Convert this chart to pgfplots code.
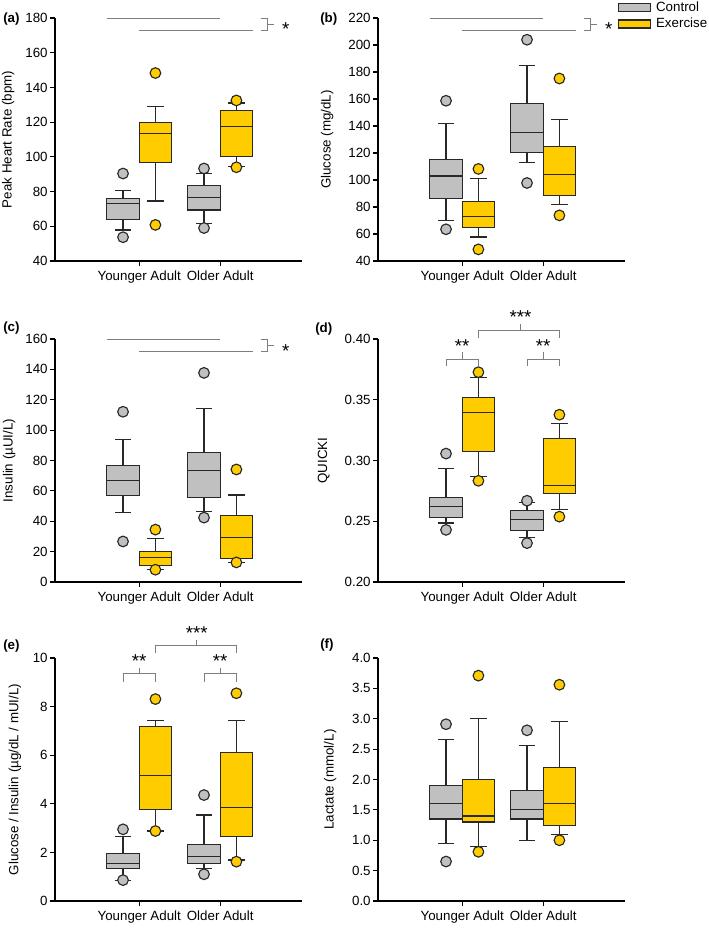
\documentclass[border=0pt]{standalone}
\usepackage{fontspec}
\setmainfont{Liberation Sans}
\usepackage{pgfplots}
\pgfplotsset{compat=1.18}
\usepgfplotslibrary{statistics}
\definecolor{ctrlgray}{RGB}{192,192,192}
\definecolor{exyel}{RGB}{255,204,0}
\definecolor{edge}{RGB}{40,40,40}
\definecolor{sigc}{RGB}{125,125,125}
\newcommand{\tf}{\fontsize{10}{12}\selectfont}
\newcommand{\starfont}{\fontsize{14}{16}\selectfont}
\tikzset{sig/.style={draw=sigc, line width=0.75pt},
  star/.style={anchor=base, font=\starfont, inner sep=0pt}}
\pgfplotsset{
  panel/.style={
    scale only axis, width=185.25pt, height=182.25pt,
    anchor=south west,
    axis x line=bottom, axis y line=left,
    axis line style={line width=0.9pt, -, black},
    xmin=-0.04, xmax=3.01,
    xtick={1,2}, xticklabels={Younger Adult, Older Adult},
    tick align=outside, major tick length=3.5pt,
    tick style={line width=0.9pt, black},
    every tick label/.append style={font=\tf},
    yticklabel style={xshift=1.5pt},
    /pgf/number format/assume math mode=true,
    label style={font=\tf},
    clip=false,
    boxplot/draw direction=y,
  },
  ctrl/.style={boxplot prepared={#1, box extend=0.4, whisker extend=0.2},
    fill=ctrlgray, draw=edge, line width=0.85pt, mark=*, mark size=4pt,
    mark options={fill=ctrlgray, draw=edge, line width=0.85pt}, forget plot},
  exer/.style={boxplot prepared={#1, box extend=0.4, whisker extend=0.2},
    fill=exyel, draw=edge, line width=0.85pt, mark=*, mark size=4pt,
    mark options={fill=exyel, draw=edge, line width=0.85pt}, forget plot},
}
\begin{document}
\begin{tikzpicture}
\useasboundingbox (0pt,0pt) rectangle (531.75pt,-696pt);

% ---------- (a) ----------
\begin{axis}[panel, at={(41.25pt,-195.75pt)},
  ymin=40, ymax=180, ytick={40,60,...,180},
  ylabel={Peak Heart Rate (bpm)},
  ylabel style={at={(axis description cs:-0.19,0.5)}, anchor=center}]
\addplot[ctrl={draw position=0.8, lower whisker=57.9, lower quartile=63.8, median=73.1, upper quartile=76.0, upper whisker=80.8}] coordinates {(0,90.4) (0,53.7)};
\addplot[exer={draw position=1.2, lower whisker=74.6, lower quartile=96.7, median=113.7, upper quartile=119.8, upper whisker=129.0}] coordinates {(0,148.3) (0,60.8)};
\addplot[ctrl={draw position=1.8, lower whisker=61.5, lower quartile=69.4, median=76.5, upper quartile=83.3, upper whisker=90.2}] coordinates {(0,93.3) (0,59.0)};
\addplot[exer={draw position=2.2, lower whisker=94.6, lower quartile=100.4, median=117.7, upper quartile=126.7, upper whisker=131.0}] coordinates {(0,132.5) (0,94.0)};
\draw[sig] (axis cs:0.6,180) -- (axis cs:2.0,180);
\draw[sig] (axis cs:1.0,172.8) -- (axis cs:2.4,172.8);
\draw[sig] (axis cs:2.50,180) -- (axis cs:2.59,180) -- (axis cs:2.59,172.8) -- (axis cs:2.50,172.8);
\draw[sig] (axis cs:2.59,176.4) -- (axis cs:2.66,176.4);
\node[star] at (axis cs:2.81,169.9) {*};
\end{axis}

% ---------- (b) ----------
\begin{axis}[panel, at={(283.5pt,-195.75pt)},
  ymin=40, ymax=220, ytick={40,60,...,220},
  ylabel={Glucose (mg/dL)},
  ylabel style={at={(axis description cs:-0.206,0.5)}, anchor=center},
  legend style={at={(0.972,1.078)}, anchor=north west, draw=none, fill=none,
    inner sep=0pt, row sep=0.5pt, font=\tf,
    nodes={inner sep=1.5pt, text height=7.5pt, text depth=1.5pt}},
  legend cell align=left,
  legend image code/.code={\draw[#1] (0pt,-3pt) rectangle (24pt,3pt); \path (26pt,0pt);}]
\addplot[ctrl={draw position=0.8, lower whisker=70.1, lower quartile=86.0, median=103.0, upper quartile=115.4, upper whisker=142.1}] coordinates {(0,158.7) (0,63.5)};
\addplot[exer={draw position=1.2, lower whisker=57.8, lower quartile=64.7, median=72.9, upper quartile=84.2, upper whisker=100.8}] coordinates {(0,108.2) (0,48.6)};
\addplot[ctrl={draw position=1.8, lower whisker=112.9, lower quartile=120.3, median=135.2, upper quartile=156.9, upper whisker=184.9}] coordinates {(0,203.9) (0,97.8)};
\addplot[exer={draw position=2.2, lower whisker=82.0, lower quartile=88.4, median=104.3, upper quartile=124.5, upper whisker=145.1}] coordinates {(0,175.2) (0,73.8)};
\draw[sig] (axis cs:0.6,220) -- (axis cs:2.0,220);
\draw[sig] (axis cs:1.0,210.7) -- (axis cs:2.4,210.7);
\draw[sig] (axis cs:2.50,220) -- (axis cs:2.59,220) -- (axis cs:2.59,210.7) -- (axis cs:2.50,210.7);
\draw[sig] (axis cs:2.59,215.35) -- (axis cs:2.66,215.35);
\node[star] at (axis cs:2.81,207.0) {*};
\addlegendimage{fill=ctrlgray, draw=edge, line width=0.8pt}
\addlegendentry{Control}
\addlegendimage{fill=exyel, draw=edge, line width=0.8pt}
\addlegendentry{Exercise}
\end{axis}

% ---------- (c) ----------
\begin{axis}[panel, at={(41.25pt,-436.5pt)},
  ymin=0, ymax=160, ytick={0,20,...,160},
  ylabel={Insulin (µUI/L)},
  ylabel style={at={(axis description cs:-0.186,0.5)}, anchor=center}]
\addplot[ctrl={draw position=0.8, lower whisker=45.7, lower quartile=57.0, median=66.9, upper quartile=76.7, upper whisker=94.0}] coordinates {(0,112.1) (0,26.7)};
\addplot[exer={draw position=1.2, lower whisker=8.5, lower quartile=10.7, median=16.2, upper quartile=19.9, upper whisker=28.8}] coordinates {(0,34.5) (0,8.1)};
\addplot[ctrl={draw position=1.8, lower whisker=46.3, lower quartile=55.5, median=73.7, upper quartile=85.5, upper whisker=114.1}] coordinates {(0,137.7) (0,42.4)};
\addplot[exer={draw position=2.2, lower whisker=12.9, lower quartile=15.7, median=29.1, upper quartile=43.9, upper whisker=57.3}] coordinates {(0,74.1) (0,12.9)};
\draw[sig] (axis cs:0.6,160) -- (axis cs:2.0,160);
\draw[sig] (axis cs:1.0,151.8) -- (axis cs:2.4,151.8);
\draw[sig] (axis cs:2.50,160) -- (axis cs:2.59,160) -- (axis cs:2.59,151.8) -- (axis cs:2.50,151.8);
\draw[sig] (axis cs:2.59,155.9) -- (axis cs:2.66,155.9);
\node[star] at (axis cs:2.81,148.1) {*};
\end{axis}

% ---------- (d) ----------
\begin{axis}[panel, at={(283.5pt,-436.5pt)},
  ymin=0.2, ymax=0.4, ytick={0.20,0.25,0.30,0.35,0.40},
  scaled y ticks=false,
  yticklabel style={/pgf/number format/fixed, /pgf/number format/fixed zerofill, /pgf/number format/precision=2},
  ylabel={QUICKI},
  ylabel style={at={(axis description cs:-0.22,0.5)}, anchor=center}]
\addplot[ctrl={draw position=0.8, lower whisker=0.2486, lower quartile=0.2530, median=0.2623, upper quartile=0.2694, upper whisker=0.2932}] coordinates {(0,0.3057) (0,0.2429)};
\addplot[exer={draw position=1.2, lower whisker=0.2869, lower quartile=0.3071, median=0.3393, upper quartile=0.3522, upper whisker=0.3680}] coordinates {(0,0.3727) (0,0.2833)};
\addplot[ctrl={draw position=1.8, lower whisker=0.2364, lower quartile=0.2421, median=0.2516, upper quartile=0.2585, upper whisker=0.2656}] coordinates {(0,0.2669) (0,0.2320)};
\addplot[exer={draw position=2.2, lower whisker=0.2598, lower quartile=0.2732, median=0.2792, upper quartile=0.3183, upper whisker=0.3306}] coordinates {(0,0.3377) (0,0.2538)};
\draw[sig] (axis cs:0.8,0.3779) -- (axis cs:0.8,0.3834) -- (axis cs:1.2,0.3834) -- (axis cs:1.2,0.3779);
\draw[sig] (axis cs:1.0,0.3834) -- (axis cs:1.0,0.3893);
\node[star] at (axis cs:1.0,0.3893) {**};
\draw[sig] (axis cs:1.8,0.3779) -- (axis cs:1.8,0.3834) -- (axis cs:2.2,0.3834) -- (axis cs:2.2,0.3779);
\draw[sig] (axis cs:2.0,0.3834) -- (axis cs:2.0,0.3893);
\node[star] at (axis cs:2.0,0.3893) {**};
\draw[sig] (axis cs:1.2,0.4011) -- (axis cs:1.2,0.4071) -- (axis cs:2.2,0.4071) -- (axis cs:2.2,0.4011);
\draw[sig] (axis cs:1.72,0.4071) -- (axis cs:1.72,0.4125);
\node[star] at (axis cs:1.72,0.4125) {***};
\end{axis}

% ---------- (e) ----------
\begin{axis}[panel, at={(41.25pt,-675.75pt)},
  ymin=0, ymax=10, ytick={0,2,...,10},
  ylabel={Glucose / Insulin (µg/dL / mUI/L)},
  ylabel style={at={(axis description cs:-0.162,0.5)}, anchor=center}]
\addplot[ctrl={draw position=0.8, lower whisker=0.86, lower quartile=1.33, median=1.55, upper quartile=1.95, upper whisker=2.65}] coordinates {(0,2.95) (0,0.86)};
\addplot[exer={draw position=1.2, lower whisker=2.88, lower quartile=3.77, median=5.16, upper quartile=7.17, upper whisker=7.43}] coordinates {(0,8.31) (0,2.88)};
\addplot[ctrl={draw position=1.8, lower whisker=1.33, lower quartile=1.56, median=1.82, upper quartile=2.33, upper whisker=3.54}] coordinates {(0,4.36) (0,1.10)};
\addplot[exer={draw position=2.2, lower whisker=1.69, lower quartile=2.67, median=3.84, upper quartile=6.12, upper whisker=7.43}] coordinates {(0,8.55) (0,1.62)};
\draw[sig] (axis cs:0.8,9.0) -- (axis cs:0.8,9.342) -- (axis cs:1.2,9.342) -- (axis cs:1.2,9.0);
\draw[sig] (axis cs:1.0,9.342) -- (axis cs:1.0,9.576);
\node[star] at (axis cs:1.0,9.609) {**};
\draw[sig] (axis cs:1.8,9.0) -- (axis cs:1.8,9.342) -- (axis cs:2.2,9.342) -- (axis cs:2.2,9.0);
\draw[sig] (axis cs:2.0,9.342) -- (axis cs:2.0,9.576);
\node[star] at (axis cs:2.0,9.609) {**};
\draw[sig] (axis cs:1.2,10.193) -- (axis cs:1.2,10.506) -- (axis cs:2.2,10.506) -- (axis cs:2.2,10.193);
\draw[sig] (axis cs:1.71,10.506) -- (axis cs:1.71,10.761);
\node[star] at (axis cs:1.71,10.778) {***};
\end{axis}

% ---------- (f) ----------
\begin{axis}[panel, at={(283.5pt,-675.75pt)},
  ymin=0, ymax=4, ytick={0,0.5,...,4.0},
  yticklabel style={/pgf/number format/fixed, /pgf/number format/fixed zerofill, /pgf/number format/precision=1},
  ylabel={Lactate (mmol/L)},
  ylabel style={at={(axis description cs:-0.194,0.5)}, anchor=center}]
\addplot[ctrl={draw position=0.8, lower whisker=0.95, lower quartile=1.35, median=1.60, upper quartile=1.90, upper whisker=2.66}] coordinates {(0,2.91) (0,0.65)};
\addplot[exer={draw position=1.2, lower whisker=0.90, lower quartile=1.30, median=1.40, upper quartile=2.00, upper whisker=3.00}] coordinates {(0,3.71) (0,0.81)};
\addplot[ctrl={draw position=1.8, lower whisker=1.00, lower quartile=1.35, median=1.50, upper quartile=1.82, upper whisker=2.56}] coordinates {(0,2.81)};
\addplot[exer={draw position=2.2, lower whisker=1.09, lower quartile=1.25, median=1.60, upper quartile=2.20, upper whisker=2.96}] coordinates {(0,3.56) (0,1.00)};
\end{axis}

% panel labels
\node[anchor=west, font=\tf\bfseries, inner sep=0pt] at (2.25pt,-14.25pt) {(a)};
\node[anchor=west, font=\tf\bfseries, inner sep=0pt] at (240pt,-14.25pt) {(b)};
\node[anchor=west, font=\tf\bfseries, inner sep=0pt] at (2.25pt,-246pt) {(c)};
\node[anchor=west, font=\tf\bfseries, inner sep=0pt] at (236.25pt,-246.75pt) {(d)};
\node[anchor=west, font=\tf\bfseries, inner sep=0pt] at (2.25pt,-484.5pt) {(e)};
\node[anchor=west, font=\tf\bfseries, inner sep=0pt] at (240pt,-483.75pt) {(f)};
\end{tikzpicture}
\end{document}
